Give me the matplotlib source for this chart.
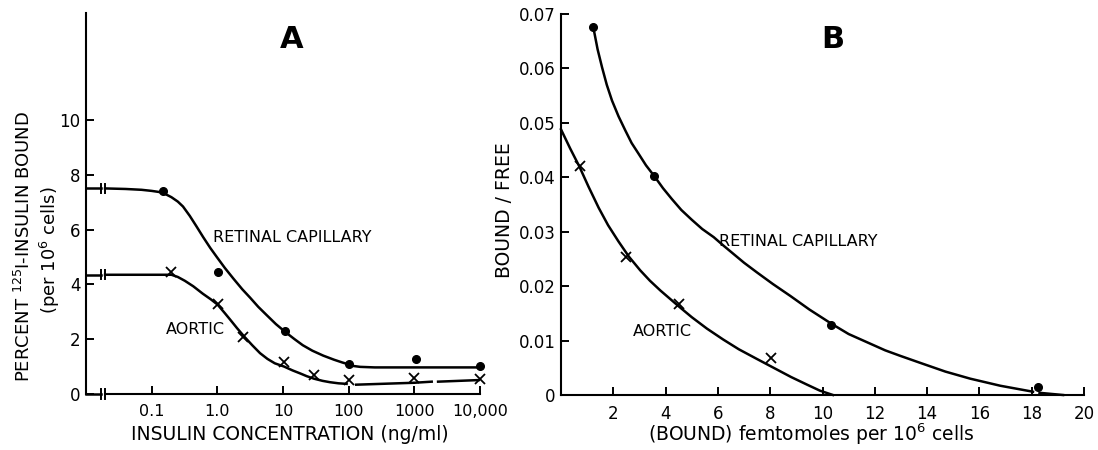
import matplotlib.pyplot as plt

# ---- Panel A: insulin competition curves ----
conc_rc = [0.15, 1.02, 10.8, 100, 1050, 10000]
bound_rc = [7.39, 4.45, 2.29, 1.1, 1.27, 1.03]
conc_ao = [0.2, 1.02, 2.45, 10.3, 30, 100, 1000, 10000]
bound_ao = [4.46, 3.27, 2.08, 1.15, 0.69, 0.5, 0.6, 0.56]
zero_rc = 7.5     # no-insulin value, drawn behind the axis break
zero_ao = 4.35

# fitted curves
fit_rc_x = [0.0195, 0.04, 0.07, 0.10, 0.13, 0.16, 0.20, 0.25, 0.30, 0.38,
            0.48, 0.61, 0.78, 0.98, 1.3, 1.77, 2.4, 3.14, 4.2, 5.63, 7.8,
            11.0, 15, 20, 28, 41, 60, 80, 100, 120, 150, 250, 1000, 10000]
fit_rc_y = [7.50, 7.48, 7.45, 7.41, 7.37, 7.30, 7.18, 7.02, 6.84, 6.50,
            6.12, 5.72, 5.33, 5.00, 4.60, 4.20, 3.82, 3.52, 3.18, 2.88, 2.55,
            2.25, 2.00, 1.78, 1.58, 1.40, 1.25, 1.15, 1.08, 1.02, 0.99, 0.97,
            0.97, 0.97]
fit_ao_x = [0.0195, 0.2, 0.25, 0.32, 0.43, 0.6, 0.8, 1.01, 1.3, 1.56, 2.0,
            2.58, 3.4, 4.47, 5.8, 7.5, 10.4, 14, 18.3, 23, 29.5, 40, 52, 70,
            93]
fit_ao_y = [4.35, 4.35, 4.27, 4.13, 3.93, 3.66, 3.45, 3.26, 2.95, 2.72, 2.40,
            2.09, 1.78, 1.49, 1.28, 1.12, 1.00, 0.86, 0.75, 0.65, 0.56, 0.48,
            0.43, 0.39, 0.37]
tail_ao_x1 = [130, 1000, 1840]
tail_ao_y1 = [0.34, 0.41, 0.45]
tail_ao_x2 = [2300, 10000]
tail_ao_y2 = [0.45, 0.51]

# ---- Panel B: Scatchard plots ----
bound_rc_b = [1.22, 3.57, 10.34, 18.26]
bf_rc_b = [0.0676, 0.0402, 0.0129, 0.0014]
bound_ao_b = [0.72, 2.49, 4.5, 8.03]
bf_ao_b = [0.0421, 0.0254, 0.0167, 0.0068]

fitb_rc_x = [1.25, 1.4, 1.57, 1.75, 1.95, 2.2, 2.46, 2.7, 2.97, 3.25, 3.57,
             3.9, 4.24, 4.6, 5.0, 5.4, 5.84, 6.2, 6.6, 7.0, 7.5, 8.1, 8.77,
             9.5, 10.34, 11.0, 11.7, 12.4, 12.97, 13.74, 14.7, 15.65, 16.8,
             18.05]
fitb_rc_y = [0.0672, 0.0635, 0.0602, 0.0570, 0.0541, 0.0512, 0.0486, 0.0463,
             0.0443, 0.0422, 0.0402, 0.0380, 0.0360, 0.0340, 0.0322, 0.0305,
             0.0290, 0.0275, 0.0259, 0.0243, 0.0225, 0.0204, 0.0182, 0.0157,
             0.0131, 0.0112, 0.0097, 0.0082, 0.0072, 0.0059, 0.0043, 0.0030,
             0.0017, 0.0006]
tailb_rc_x = [18.3, 19.2]
tailb_rc_y = [0.0004, 0.0]
fitb_ao_x = [0, 0.35, 0.7, 1.05, 1.44, 1.8, 2.2, 2.6, 3.03, 3.4, 3.8, 4.5,
             5.0, 5.58, 6.2, 6.8, 7.5, 8.13, 8.8, 9.41, 9.9, 10.4]
fitb_ao_y = [0.0488, 0.0453, 0.0420, 0.0383, 0.0344, 0.0312, 0.0282, 0.0254,
             0.0229, 0.0210, 0.0192, 0.0163, 0.0143, 0.0122, 0.0102, 0.0084,
             0.0066, 0.0050, 0.0033, 0.0019, 0.0008, 0.0]

plt.rcParams['font.family'] = ['DejaVu Sans']
W, H = 1098, 450
fig = plt.figure(figsize=(W / 100, H / 100), dpi=100)
lw = 1.8
k = 'black'

def fx(px):
    return px / W

def fy(py):
    return 1 - py / H

# ---------------- A ----------------
axA = fig.add_axes([fx(86), fy(394), (480 - 86) / W, (394 - 13) / H])
axA.set_xscale('log')
axA.set_xlim(0.01, 10000)
axA.set_ylim(0, 13.9)
for s in ['top', 'right', 'bottom']:
    axA.spines[s].set_visible(False)
axA.spines['left'].set_linewidth(1.5)

# bottom axis with break marks, and the zero-dose lines
brk1, brk2 = 0.017, 0.0195
for yv in [0, zero_rc, zero_ao]:
    axA.plot([0.01, brk1], [yv, yv], color=k, lw=lw, clip_on=False)
    for b in [brk1, brk2]:
        axA.plot([b, b], [yv - 0.17, yv + 0.17], color=k, lw=1.4, clip_on=False)
axA.plot([brk2, 10000], [0, 0], color=k, lw=1.5, clip_on=False)

axA.plot(fit_rc_x, fit_rc_y, color=k, lw=lw)
axA.plot(fit_ao_x, fit_ao_y, color=k, lw=lw)
axA.plot(tail_ao_x1, tail_ao_y1, color=k, lw=lw)
axA.plot(tail_ao_x2, tail_ao_y2, color=k, lw=lw)
axA.plot(conc_rc, bound_rc, 'o', color=k, ms=5.5, clip_on=False)
axA.plot(conc_ao, bound_ao, 'x', color=k, ms=6.5, mew=1.3, clip_on=False)

axA.set_xticks([0.1, 1, 10, 100, 1000, 10000])
axA.set_xticklabels(['0.1', '1.0', '10', '100', '1000', '10,000'])
axA.minorticks_off()
axA.set_yticks([0, 2, 4, 6, 8, 10])
axA.tick_params(axis='x', direction='in', length=6, width=1.4, pad=7,
                labelsize=11.5)
axA.tick_params(axis='y', direction='in', length=6, width=1.4, pad=4,
                labelsize=12)
axA.set_facecolor('none')

fig.text(fx(292), fy(40), 'A', fontsize=22, fontweight='bold',
         ha='center', va='center')
fig.text(fx(213), fy(238), 'RETINAL CAPILLARY', fontsize=11.5,
         ha='left', va='center')
fig.text(fx(166), fy(329), 'AORTIC', fontsize=11.5, ha='left', va='center')
fig.text(fx(290), fy(434), 'INSULIN CONCENTRATION (ng/ml)', fontsize=13.5,
         ha='center', va='center')
fig.text(fx(24), fy(247), 'PERCENT $^{125}$I-INSULIN BOUND', fontsize=13,
         rotation=90, ha='center', va='center')
fig.text(fx(50), fy(250), '(per 10$^{6}$ cells)', fontsize=13,
         rotation=90, ha='center', va='center')

# ---------------- B ----------------
axB = fig.add_axes([fx(561), fy(395), (1084 - 561) / W, (395 - 14) / H])
axB.set_xlim(0, 20)
axB.set_ylim(0, 0.07)
for s in ['top', 'right']:
    axB.spines[s].set_visible(False)
for s in ['left', 'bottom']:
    axB.spines[s].set_linewidth(1.5)

axB.plot(fitb_rc_x, fitb_rc_y, color=k, lw=lw)
axB.plot(tailb_rc_x, tailb_rc_y, color=k, lw=lw, clip_on=False)
axB.plot(fitb_ao_x, fitb_ao_y, color=k, lw=lw, clip_on=False)
axB.plot(bound_rc_b, bf_rc_b, 'o', color=k, ms=5.5, clip_on=False)
axB.plot(bound_ao_b, bf_ao_b, 'x', color=k, ms=6.5, mew=1.3, clip_on=False)

axB.set_xticks(range(2, 21, 2))
axB.set_yticks([0, 0.01, 0.02, 0.03, 0.04, 0.05, 0.06, 0.07])
axB.set_yticklabels(['0', '0.01', '0.02', '0.03', '0.04', '0.05', '0.06', '0.07'])
axB.tick_params(axis='x', direction='in', length=6, width=1.4, pad=7,
                labelsize=12)
axB.tick_params(axis='y', direction='in', length=6, width=1.4, pad=4,
                labelsize=12)
axB.set_facecolor('none')

fig.text(fx(833), fy(40), 'B', fontsize=22, fontweight='bold',
         ha='center', va='center')
fig.text(fx(719), fy(241), 'RETINAL CAPILLARY', fontsize=11.5,
         ha='left', va='center')
fig.text(fx(633), fy(331), 'AORTIC', fontsize=11.5, ha='left', va='center')
fig.text(fx(811), fy(434), '(BOUND) femtomoles per 10$^{6}$ cells',
         fontsize=13.5, ha='center', va='center')
fig.text(fx(505), fy(210), 'BOUND / FREE', fontsize=13.5, rotation=90,
         ha='center', va='center')

plt.savefig('out.png', dpi=100)
plt.close()
